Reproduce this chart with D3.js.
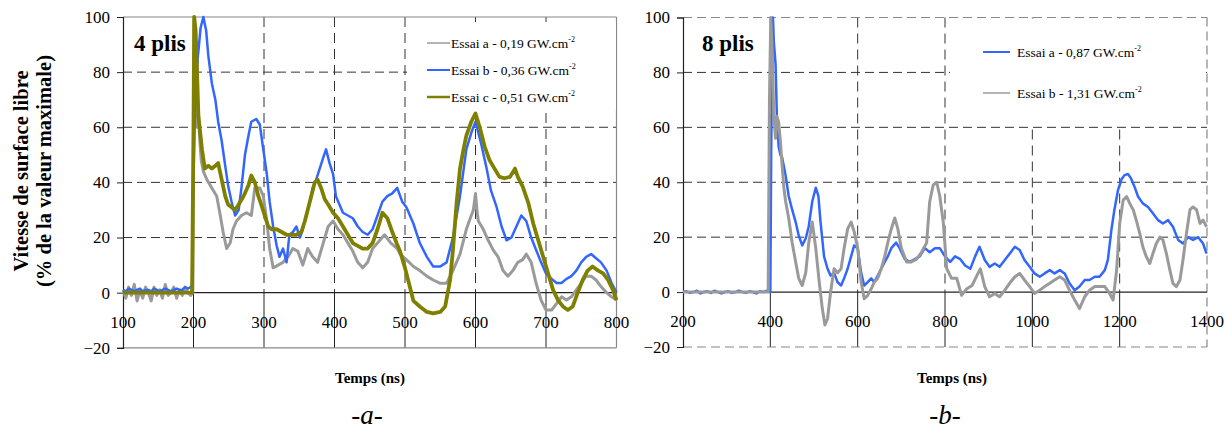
<!DOCTYPE html>
<html><head><meta charset="utf-8">
<script src="https://cdn.jsdelivr.net/npm/d3@7"></script>
<style>html,body{margin:0;padding:0;background:#fff;}svg{display:block;}svg text{font-family:"Liberation Serif","Times New Roman",serif;}</style>
</head><body><svg id="c" width="1227" height="432"></svg>
<script>
// ---------- DATA ----------
const yTicks = [-20, 0, 20, 40, 60, 80, 100];
const xTicksA = [100, 200, 300, 400, 500, 600, 700, 800];
const xTicksB = [200, 400, 600, 800, 1000, 1200, 1400];
const legendA = ["Essai a - 0,19 GW.cm", "Essai b - 0,36 GW.cm", "Essai c - 0,51 GW.cm"];
const legendB = ["Essai a - 0,87 GW.cm", "Essai b - 1,31 GW.cm"];

// Panel a (4 plis)
const tA_a = [100,104,108,112,116,120,124,128,132,136,140,144,148,152,156,160,164,168,172,176,180,184,188,192,196,
  199,200,201,202,203,205,207,209,211,214,219,226,233,238,242,247,252,256,261,268,275,282,287,294,299,304,308,313,320,327,334,341,348,355,362,369,376,384,391,398,405,412,419,426,433,440,447,454,461,471,480,489,493,502,512,521,531,540,550,559,568,578,587,594,597,600,602,604,611,618,625,632,639,646,653,660,667,672,679,686,693,700,708,715,722,729,736,743,750,757,764,771,778,786,793,800];
const vA_a = [1,-2,2,-1,3,-3,1,-2,2,0,-3,2,-1,1,-2,3,-1,0,2,-2,1,-1,2,0,-1,
  0,50,100,70,80,60,65,55,48,44,41,38,35,28,22,16,18,23,26,28,29,28,38,38,35,26,16,9,10,11,13,16,15,10,16,13,11,18,24,26,23,21,18,15,11,9,11,16,18,21,18,16,14,12,9.5,8,6,4.6,3.4,3.4,8,14,23,28,30,36,30,26,23,19,15.5,13,8,6,8,11,12,14,11,3.4,-2.7,-6.3,-6.3,-4,-1.5,-2.7,-1.5,1,3.4,6,6,4.6,2.2,0,-1.5,-2.7];

const tA_b = [100,104,108,112,116,120,124,128,132,136,140,144,148,152,156,160,164,168,172,176,180,184,188,192,196,
  198,199,202,206,210,214,218,221,226,231,235,240,245,249,254,259,264,268,273,278,282,289,294,299,304,308,313,318,322,327,332,336,341,346,351,355,360,365,369,374,379,384,388,393,398,402,407,412,419,426,433,440,447,454,461,468,475,482,489,496,502,512,521,531,540,550,559,568,578,587,594,600,608,615,622,630,637,644,651,658,665,672,679,686,693,700,708,715,722,729,736,743,750,757,764,771,778,786,793,800];
const vA_b = [1,0.5,1.5,1,0.5,1,1.5,0.5,1,1,0.5,1.5,1,0.5,1,1.5,1,0.5,1,1.5,1,1,2,1.5,2,
  3,30,65,85,96,100,95,86,76,70,62,55,46,39,33,28,30,38,50,57,62,63,61,52,43,33,24,17,13,16,11,21,22,24,20,23,28,33,38,41,45,49,52,47,43,35,32,29,28,27,24,22,21,23,28,33,35,36,38,33,31,25,18,13,9.5,9.5,11,20,35,52,58,62,54,46,37,31,24,19,20,24,28,26,20,15.5,11,7,5,3.5,3.5,5,6,8,11,13,14,12.5,11,8,3.5,0];

const tA_c = [100,108,116,124,132,140,148,156,164,172,180,188,196,
  198,200,201,203,205,207,212,216,221,226,231,235,240,245,249,254,259,264,271,278,282,287,292,296,301,306,311,318,325,332,339,346,353,358,362,367,372,376,381,386,391,398,405,412,419,426,433,440,447,454,461,468,475,482,488,493,500,506,512,521,531,540,550,557,564,568,573,578,583,587,594,600,606,613,620,627,634,641,649,656,660,667,675,682,689,696,703,710,717,724,731,738,745,752,759,766,774,781,788,795,800];
const vA_c = [0,0,0,0,0,0,0,0,0,0,0,0,0,
  0,60,100,95,80,64,52,45,46,45,46,47,41,35,32,31,30,32,35,39,42.5,40,35,32,28,24,23,23,22,21,21,21,22,26,30,35,40,41,38,34,32,29,27,24,21,18,17,16,16,18,23,29,27,22,18,15,9,3,-3,-5,-7,-7.5,-7,-5,4.6,15.5,32,45,52,57,62,65,60,53,48,45,42,41.5,42,45,42,38.5,32.5,25,19,13,7,1,-2.7,-5,-6.3,-5,0,4.6,8,9.5,8,7,4.6,1,-2.7];

// Panel b (8 plis)
const tB_a = [200,208,216,224,232,240,248,256,264,272,280,288,296,304,312,320,328,336,344,352,360,368,376,384,392,
  398,400,402,405,406,408,412,415,419,423,427,435,442,450,458,465,473,481,488,496,504,510,515,523,531,538,546,554,562,569,577,585,592,600,608,615,623,631,638,646,654,662,669,677,688,696,708,719,731,742,754,765,777,788,800,812,823,835,846,858,869,879,891,902,914,925,937,948,960,971,982,994,1005,1017,1028,1040,1051,1063,1074,1085,1097,1108,1120,1131,1143,1154,1166,1173,1181,1188,1196,1204,1211,1219,1226,1234,1242,1253,1265,1276,1288,1299,1311,1322,1334,1345,1357,1368,1380,1391,1399];
const vB_a = [0,0.3,-0.3,0,0.5,-0.5,0,0.3,-0.3,0.5,0,-0.5,0,0.3,-0.3,0,0.5,0,-0.3,0.3,0,-0.5,0.3,0,0.5,
  0,0,52,99,100,91,83,64,53,50,49,42.5,35,30,25.5,20.6,17,19.5,24,33,38,35,25.5,13,8.5,6,7,3.6,2.4,5,8.5,13,17,16,7,2.4,3.6,5,3.6,6,8.5,11,13,16,18,16,12,11,12,13,16,14.5,16,16,13,11,13,12,9.7,8.5,13,16.5,11.7,9.2,10.4,9.2,11.7,14,16.5,15.3,11.7,9.2,6.8,5.6,6.8,8,6.8,8,6.8,3.2,0.7,2,4.4,4.4,5.6,5.6,8,11.7,22.6,30,37,41,42.6,43,41.4,38.4,34.8,32.3,31,28.7,26.2,25,26.2,23.8,19,17.7,20,19,20,17.7,14];

const tB_b = [200,240,280,320,360,395,398,401,404,408,412,415,419,423,427,431,435,442,450,458,465,473,481,488,496,504,512,519,525,531,538,546,554,562,569,577,585,592,600,608,615,623,631,638,646,654,662,669,677,685,692,700,712,723,735,746,758,765,773,781,788,796,804,815,827,838,850,862,873,881,891,902,914,925,937,948,960,971,982,994,1005,1017,1028,1040,1051,1063,1074,1085,1097,1108,1120,1131,1143,1154,1166,1177,1185,1193,1200,1208,1216,1223,1231,1238,1246,1253,1261,1269,1276,1284,1292,1299,1307,1315,1322,1330,1338,1345,1353,1361,1368,1376,1384,1391,1399];
const vB_b = [0,0,0,0,0,0,70,100,89,64,56,64,62,55,46,38,33,27,18,11,5,2.4,7,18,25.5,16,3.6,-6,-12,-9.7,0,8.5,7,8.5,16,23,25.5,22,16,3.6,-2.4,-1.2,1.2,3.6,5,8.5,13,18,23,27,23,16,11,11,12,14.5,18,33,39,40,35,25.5,8.5,5,5,-1.2,1.2,2.4,6,8.5,2,-1.7,-0.5,-1.7,0.7,3.2,5.6,6.8,4.4,2,-0.5,0.7,2,3.2,4.4,5.6,4.4,0.7,-2.9,-6,-1.7,0.7,2,2,2,-0.5,-2.9,8,25,33.5,34.8,32.3,30,26.2,21.4,16.5,12.9,10.4,14,17.7,20,19,14,8,3.2,2,4.4,11.7,21.4,30,31,30,25,26.2,23.8];

const GREY = "#9a9a9a", BLUE = "#3366ff", OLIVE = "#808000";
const SERIF = "Liberation Serif, Times New Roman, serif";

// ---------- DRAW ----------
const svg = d3.select("#c");

function panel(cfg) {
  const g = svg.append("g");
  const x = d3.scaleLinear().domain(cfg.xDomain).range([cfg.x0, cfg.x1]);
  const y = d3.scaleLinear().domain([-20, 100]).range([cfg.yBot, cfg.yTop]);

  g.selectAll(".hg").data(yTicks.filter(v => v > 0 && v < 100)).join("line")
    .attr("x1", cfg.x0).attr("x2", cfg.x1).attr("y1", d => y(d)).attr("y2", d => y(d))
    .attr("stroke", "#333").attr("stroke-width", 1).attr("stroke-dasharray", "9,5");
  const inner = cfg.xTicks.slice(1, -1);
  g.selectAll(".vg").data(inner).join("line")
    .attr("x1", d => x(d)).attr("x2", d => x(d)).attr("y1", y(100)).attr("y2", y(0))
    .attr("stroke", "#333").attr("stroke-width", 1).attr("stroke-dasharray", "10,6");
  g.selectAll(".vb").data(inner).join("line")
    .attr("x1", d => x(d)).attr("x2", d => x(d)).attr("y1", y(0)).attr("y2", y(-20))
    .attr("stroke", "#222").attr("stroke-width", 1);

  const bd = cfg.borderDash;
  [[cfg.x0, y(100), cfg.x1, y(100)], [cfg.x1, y(100), cfg.x1, y(-20)], [cfg.x0, y(-20), cfg.x1, y(-20)]].forEach(s => {
    g.append("line").attr("x1", s[0]).attr("y1", s[1]).attr("x2", s[2]).attr("y2", s[3])
      .attr("stroke", "#888").attr("stroke-width", 1.2).attr("stroke-dasharray", bd);
  });

  g.append("rect").attr("x", cfg.leg.x).attr("y", cfg.leg.y).attr("width", cfg.leg.w).attr("height", cfg.leg.h).attr("fill", "#fff");

  g.append("line").attr("x1", cfg.x0).attr("x2", cfg.x1).attr("y1", y(0)).attr("y2", y(0)).attr("stroke", "#222").attr("stroke-width", 1.2);
  const ya = g.append("g").attr("transform", `translate(${cfg.x0},0)`)
    .call(d3.axisLeft(y).tickValues(yTicks).tickSize(6).tickPadding(7).tickFormat(d3.format("d")));
  ya.attr("font-family", SERIF);
  ya.select(".domain").attr("stroke", "#222").attr("stroke-width", 1.2);
  ya.selectAll(".tick line").attr("stroke", "#222");
  ya.selectAll("text").attr("font-family", SERIF).attr("font-size", 17).attr("fill", "#000");

  g.selectAll(".xl").data(cfg.xTicks).join("text")
    .attr("x", d => x(d)).attr("y", y(0) + 35).attr("text-anchor", "middle")
    .attr("font-family", SERIF).attr("font-size", 17).attr("fill", "#000").text(d => d);

  const line = d3.line().x(d => x(d[0])).y(d => y(d[1]));
  cfg.series.forEach(s => {
    g.append("path").datum(d3.zip(s.t, s.v)).attr("d", line)
      .attr("fill", "none").attr("stroke", s.color).attr("stroke-width", s.w).attr("stroke-linejoin", "round");
  });

  cfg.series.forEach((s, i) => {
    const ly = cfg.leg.rows[i];
    g.append("line").attr("x1", cfg.leg.lx1).attr("x2", cfg.leg.lx2).attr("y1", ly).attr("y2", ly)
      .attr("stroke", s.color).attr("stroke-width", s.legW);
    const t = g.append("text").attr("x", cfg.leg.tx).attr("y", ly + 4.5)
      .attr("font-family", SERIF).attr("font-size", 13.5).attr("fill", "#000");
    t.append("tspan").text(s.label);
    t.append("tspan").attr("dy", -6).attr("font-size", 8).text("-2");
  });

  g.append("text").attr("x", cfg.tag.x).attr("y", cfg.tag.y).attr("font-family", SERIF)
    .attr("font-size", 23).attr("font-weight", "bold").text(cfg.tag.text);
  g.append("text").attr("x", cfg.xt).attr("y", 383).attr("text-anchor", "middle").attr("font-family", SERIF)
    .attr("font-size", 15).attr("font-weight", "bold").text("Temps (ns)");
  g.append("text").attr("x", cfg.cap.x).attr("y", 424).attr("text-anchor", "middle").attr("font-family", SERIF)
    .attr("font-size", 27).attr("font-style", "italic").text(cfg.cap.text);
}

panel({
  xDomain: [100, 800], x0: 123, x1: 616.5, yTop: 17, yBot: 347.8, xTicks: xTicksA, borderDash: null,
  series: [
    {t: tA_a, v: vA_a, color: GREY, w: 3, legW: 1.5, label: legendA[0]},
    {t: tA_b, v: vA_b, color: BLUE, w: 2.5, legW: 2, label: legendA[1]},
    {t: tA_c, v: vA_c, color: OLIVE, w: 3.8, legW: 2.5, label: legendA[2]}
  ],
  leg: {x: 407, y: 22, w: 209, h: 88, rows: [43, 70, 97], lx1: 427, lx2: 450, tx: 451},
  tag: {x: 134, y: 51, text: "4 plis"}, xt: 370, cap: {x: 367, text: "-a-"}
});

panel({
  xDomain: [200, 1400], x0: 683, x1: 1207, yTop: 17.5, yBot: 347, xTicks: xTicksB, borderDash: "9,5",
  series: [
    {t: tB_a, v: vB_a, color: BLUE, w: 2.5, legW: 2, label: legendB[0]},
    {t: tB_b, v: vB_b, color: GREY, w: 3, legW: 1.5, label: legendB[1]}
  ],
  leg: {x: 950, y: 18.5, w: 256, h: 107, rows: [52, 93], lx1: 983, lx2: 1010, tx: 1017},
  tag: {x: 702, y: 51, text: "8 plis"}, xt: 952, cap: {x: 945, text: "-b-"}
});

const yt = svg.append("text").attr("transform", "translate(0,171) rotate(-90)").attr("font-family", SERIF)
  .attr("text-anchor", "middle").attr("font-weight", "bold").attr("font-size", 20.5);
yt.append("tspan").attr("x", 0).attr("y", 28).text("Vitesse de surface libre");
yt.append("tspan").attr("x", 0).attr("y", 51).text("(% de la valeur maximale)");
</script></body></html>
